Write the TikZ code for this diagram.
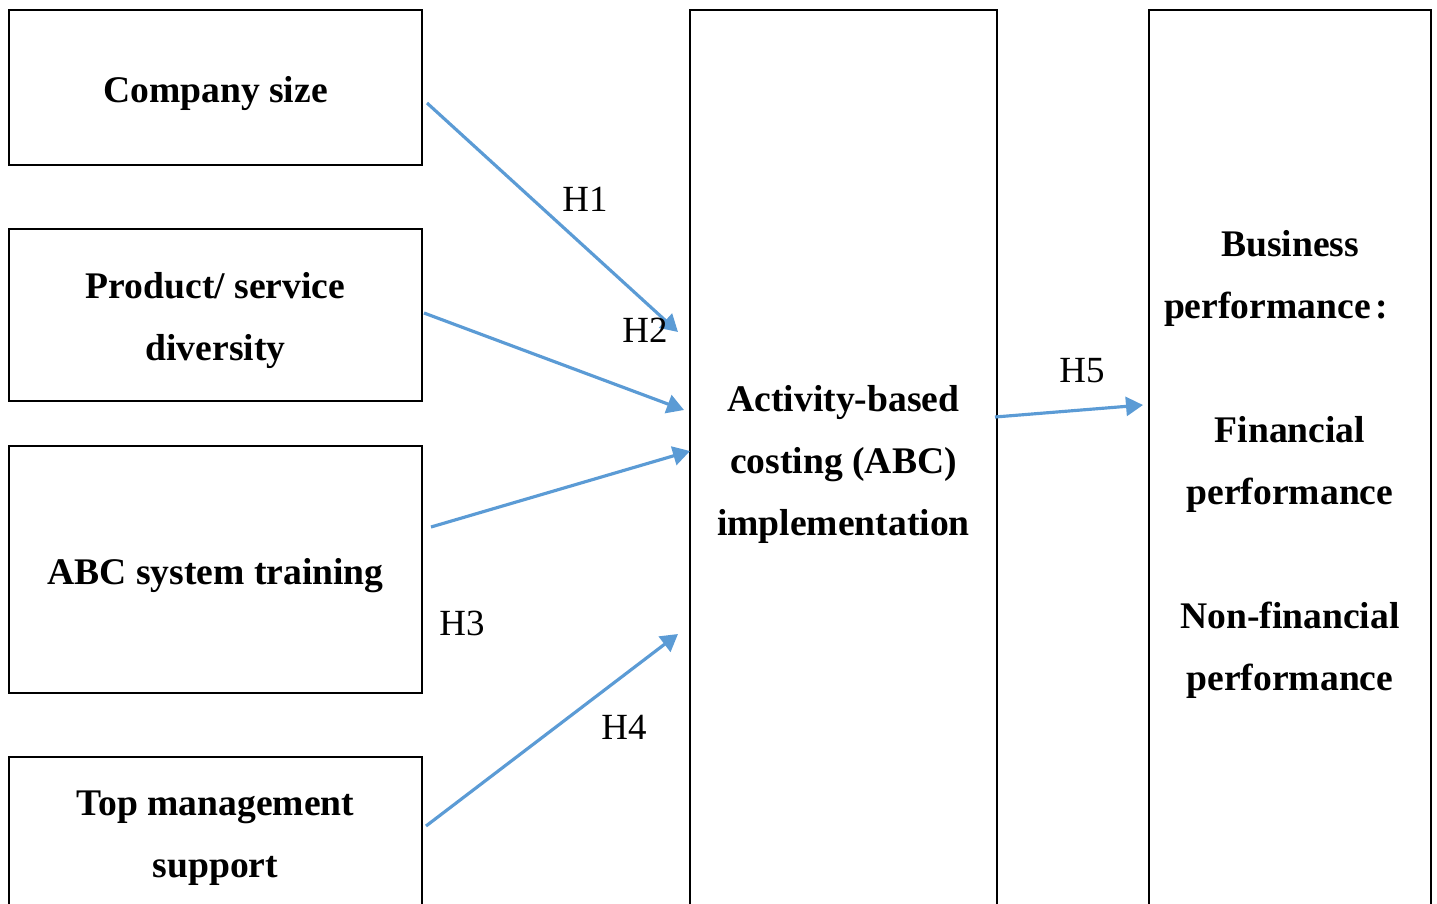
\documentclass[tikz,border=0pt]{standalone}
\usepackage{fontspec}
\setmainfont{Liberation Serif}
\usepackage{tikz}
\usetikzlibrary{arrows.meta}
\definecolor{hypblue}{HTML}{5B9BD5}

\begin{document}
\begin{tikzpicture}[x=0.02cm, y=-0.02cm,
    factor/.style={draw, line width=1.1pt, inner sep=0pt},
    ftext/.style={align=center, inner sep=0pt, font=\fontsize{21.4}{35.3}\selectfont\bfseries},
    hyp/.style={hypblue, line width=1.8pt, -{Triangle[length=0.34cm, width=0.38cm]}},
    hlabel/.style={font=\fontsize{21}{25}\selectfont}]
                      \useasboundingbox (0,0) rectangle (1437,903);
                      \clip (0,0) rectangle (1437,903);
                      % left factors
                      \node[factor, minimum width=8.26cm, minimum height=3.1cm] (size) at (215.5,87.5) {};
                      \node[factor, minimum width=8.26cm, minimum height=3.44cm] (diversity) at (215.5,315) {};
                      \node[factor, minimum width=8.26cm, minimum height=4.94cm] (training) at (215.5,569.5) {};
                      \node[factor, minimum width=8.26cm, minimum height=3.08cm] (support) at (215.5,834) {};
                      \node[ftext] (size-t) at (215.5,93.5) {Company size};
                      \node[ftext] (diversity-t) at (215.5,320.5) {Product/ service\\diversity};
                      \node[ftext] (training-t) at (215.5,575.5) {ABC system training};
                      \node[ftext] (support-t) at (215.5,838) {Top management\\support};
                      % ABC and performance
                      \node[factor, minimum width=6.14cm, minimum height=18.04cm] (abc) at (843.5,461) {};
                      \node[factor, minimum width=5.64cm, minimum height=18.04cm] (perf) at (1290,461) {};
                      \node[ftext] (abc-t) at (843.5,464) {Activity-based\\costing (ABC)\\implementation};
                      \node[ftext] (perf-t) at (1290,464.5) {Business\\performance\kern0.12em:\kern0.75em\\[35.3pt]Financial\\performance\\[35.3pt]Non-financial\\performance};
                      % arrow ends
                      \coordinate (s1) at (427,103);  \coordinate (e1) at (678,332);
                      \coordinate (s2) at (424,313);  \coordinate (e2) at (684,410);
                      \coordinate (s3) at (431,527);  \coordinate (e3) at (690,451);
                      \coordinate (s4) at (426,826);  \coordinate (e4) at (678,634);
                      \coordinate (s5) at (995,417);  \coordinate (e5) at (1143,405);
                      \draw[hyp] (s1) -- (e1);
                      \draw[hyp] (s2) -- (e2);
                      \draw[hyp] (s3) -- (e3);
                      \draw[hyp] (s4) -- (e4);
                      \draw[hyp] (s5) -- (e5);
                      \node[hlabel] (h1) at (585,199) {H1};
                      \node[hlabel] (h2) at (645,330) {H2};
                      \node[hlabel] (h3) at (462,623) {H3};
                      \node[hlabel] (h4) at (624,727) {H4};
                      \node[hlabel] (h5) at (1082,371) {H5};
                  \end{tikzpicture}
\end{document}
